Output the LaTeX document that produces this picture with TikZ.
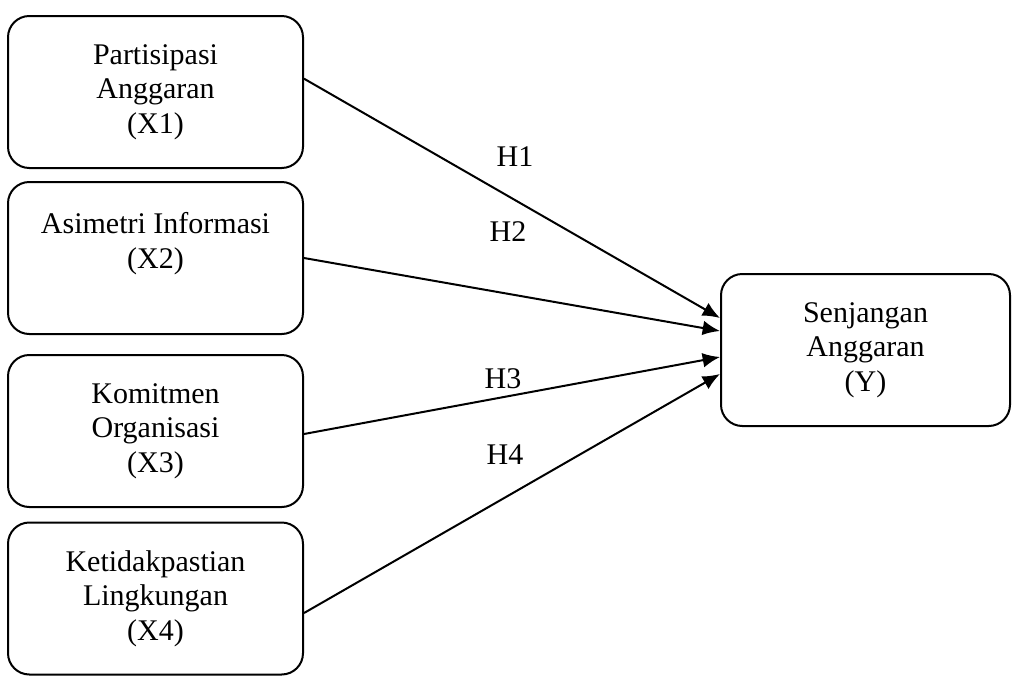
\documentclass[tikz,border=0pt]{standalone}
\usepackage{fontspec}
\setmainfont{Liberation Serif}
\usepackage{tikz}
\usetikzlibrary{arrows.meta}

\begin{document}
\begin{tikzpicture}[x=0.75pt,y=-0.75pt]
\tikzstyle{every node} = [font = \fontsize{22.5pt}{26pt}\selectfont]
\tikzstyle{varbox} = [draw, line width=1.5pt, rounded corners=16pt, align=center, minimum width=221.25pt, minimum height=114pt, inner sep=0pt]
\tikzstyle{hyparrow} = [line width=1.5pt, -{Latex[length=13pt,width=11pt]}]
\useasboundingbox (0,0) rectangle (1017,675);

		% independent variables
		\node [varbox] (x1) at (155.5,92) {Partisipasi\\Anggaran\\(X1)};
		\node [varbox] (x2) at (155.5,258) {Asimetri Informasi\\(X2)\\ };
		\node [varbox] (x3) at (155.5,431) {Komitmen\\Organisasi\\(X3)};
		\node [varbox] (x4) at (155.5,598.5) {Ketidakpastian\\Lingkungan\\(X4)};
		% dependent variable
		\node [varbox, minimum width=216.75pt] (y) at (865.5,350) {Senjangan\\Anggaran\\(Y)};

		\draw [hyparrow] ([yshift=10pt]x1.east) -- ([yshift=24pt]y.west);
		\draw [hyparrow] (x2.east) -- ([yshift=14.25pt]y.west);
		\draw [hyparrow] ([yshift=-2.25pt]x3.east) -- ([yshift=-5.25pt]y.west);
		\draw [hyparrow] ([yshift=-10.9pt]x4.east) -- ([yshift=-18pt]y.west);

		\node (h1) at (515,157) {H1};
		\node (h2) at (508,232) {H2};
		\node (h3) at (503,379) {H3};
		\node (h4) at (505,455) {H4};
\end{tikzpicture}
\end{document}
